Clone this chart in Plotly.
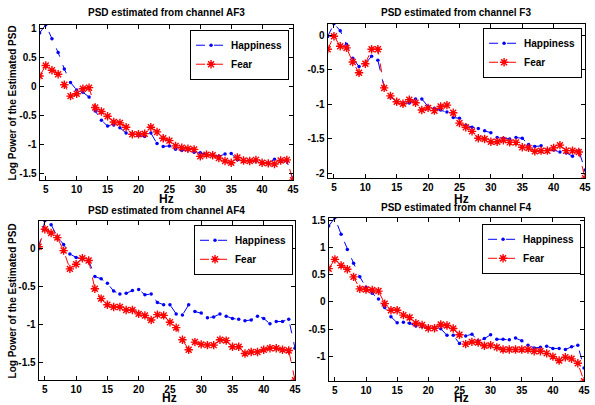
import plotly.graph_objects as go

hz = list(range(4, 46))

af3_happiness = [0.92, 1.06, 0.82, 0.585, 0.30, 0.07, -0.06, -0.10, -0.18, -0.42, -0.58, -0.68, -0.66, -0.71,
                 -0.80, -0.81, -0.84, -0.86, -0.80, -0.98, -1.03, -1.02, -1.08, -1.10, -1.09, -1.13, -1.14,
                 -1.16, -1.18, -1.20, -1.16, -1.15, -1.26, -1.28, -1.28, -1.28, -1.30, -1.32, -1.25, -1.28,
                 -1.28, -1.60]
af3_fear = [0.18, 0.36, 0.28, 0.21, 0.03, -0.165, -0.125, -0.04, -0.02, -0.36, -0.43, -0.51, -0.61, -0.625,
            -0.70, -0.82, -0.82, -0.81, -0.70, -0.78, -0.89, -0.93, -1.02, -1.05, -1.07, -1.08, -1.20,
            -1.17, -1.18, -1.23, -1.28, -1.31, -1.22, -1.27, -1.28, -1.26, -1.31, -1.32, -1.33, -1.27,
            -1.26, -1.61]

f3_happiness = [-0.015, 0.17, 0.07, -0.125, -0.33, -0.45, -0.41, -0.30, -0.36, -0.75, -0.89, -0.96, -0.98,
                -0.98, -0.92, -0.92, -1.03, -1.06, -1.08, -1.11, -1.19, -1.20, -1.30, -1.33, -1.35, -1.38,
                -1.41, -1.48, -1.49, -1.50, -1.48, -1.49, -1.58, -1.61, -1.60, -1.66, -1.66, -1.69, -1.70,
                -1.75, -1.67, -1.95]
f3_fear = [-0.20, -0.01, -0.155, -0.18, -0.385, -0.54, -0.41, -0.20, -0.20, -0.76, -0.875, -0.96, -0.99,
           -0.93, -0.975, -1.08, -1.05, -1.09, -1.03, -1.01, -1.12, -1.27, -1.33, -1.39, -1.49, -1.50,
           -1.54, -1.54, -1.52, -1.55, -1.55, -1.62, -1.63, -1.68, -1.67, -1.67, -1.63, -1.59, -1.67,
           -1.67, -1.69, -2.07]

af4_happiness = [0.0, 0.36, 0.31, 0.15, 0.05, -0.075, -0.12, -0.14, -0.16, -0.37, -0.40, -0.46, -0.56, -0.60,
                 -0.59, -0.555, -0.54, -0.61, -0.60, -0.71, -0.74, -0.74, -0.86, -0.875, -0.74, -0.83, -0.85,
                 -0.91, -0.90, -0.86, -0.89, -0.92, -0.93, -0.95, -0.94, -0.89, -0.92, -0.99, -0.96, -0.96,
                 -0.93, -1.31]
af4_fear = [0.02, 0.25, 0.20, 0.14, -0.03, -0.27, -0.21, -0.13, -0.16, -0.53, -0.66, -0.74, -0.77, -0.77,
            -0.81, -0.81, -0.86, -0.88, -0.94, -0.87, -0.88, -0.97, -1.04, -1.20, -1.33, -1.23, -1.26,
            -1.27, -1.27, -1.20, -1.21, -1.29, -1.29, -1.38, -1.36, -1.36, -1.33, -1.31, -1.31, -1.33,
            -1.34, -1.73]

f4_happiness = [1.39, 1.54, 1.24, 0.96, 0.71, 0.46, 0.27, 0.16, 0.055, -0.10, -0.27, -0.38, -0.37, -0.39,
                -0.44, -0.45, -0.49, -0.47, -0.49, -0.61, -0.61, -0.76, -0.62, -0.59, -0.71, -0.67, -0.60,
                -0.68, -0.68, -0.69, -0.66, -0.71, -0.79, -0.84, -0.83, -0.81, -0.85, -0.85, -0.87, -0.82,
                -0.79, -1.21]
f4_fear = [0.61, 0.78, 0.67, 0.60, 0.46, 0.24, 0.23, 0.22, 0.20, -0.03, -0.15, -0.15, -0.24, -0.285, -0.39,
           -0.42, -0.48, -0.48, -0.41, -0.43, -0.485, -0.60, -0.77, -0.73, -0.74, -0.80, -0.79, -0.83, -0.87,
           -0.87, -0.87, -0.87, -0.87, -0.90, -0.90, -0.94, -1.00, -1.07, -1.01, -1.04, -1.12, -1.45]

channels = ["AF3", "F3", "AF4", "F4"]
titles = ["PSD estimated from channel AF3", "PSD estimated from channel F3",
          "PSD estimated from channel AF4", "PSD estimated from channel F4"]
series_names = ["Happiness", "Fear"]
x_tickvals = [5, 10, 15, 20, 25, 30, 35, 40, 45]
y_tickvals = [-2, -1.5, -1, -0.5, 0, 0.5, 1, 1.5]
y_ticktext = ["-2", "-1.5", "-1", "-0.5", "0", "0.5", "1", "1.5"]
x_label = "Hz"
y_label = "Log Power of the Estimated PSD"

data = [(af3_happiness, af3_fear), (f3_happiness, f3_fear),
        (af4_happiness, af4_fear), (f4_happiness, f4_fear)]

W, H = 595, 405
# plot area boxes in pixels: (left, right, top, bottom)
boxes = [(40, 296, 22, 179), (331, 591, 21, 177), (39, 298, 220, 381), (332, 590, 217, 382)]
legend_pos = [(292, 27), (588, 25), (296, 224), (587, 223)]
title_y = [10, 10, 210, 207]
hz_pos = [(168, 198), (466, 198), (171, 399), (466, 399)]

fig = go.Figure()
layout = dict(width=W, height=H, autosize=False, margin=dict(l=0, r=0, t=0, b=0),
              paper_bgcolor="white", plot_bgcolor="white", annotations=[])

font_family = "Liberation Sans, Arial, sans-serif"

for i, (hap, fear) in enumerate(data):
    n = i + 1
    sfx = "" if n == 1 else str(n)
    xa, ya = "x" + sfx, "y" + sfx
    lg = "legend" + sfx
    fig.add_trace(go.Scatter(x=hz, y=hap, name=series_names[0], mode="lines+markers",
                             xaxis=xa, yaxis=ya, legend=lg,
                             line=dict(color="rgb(0,0,255)", width=1, dash="dash"),
                             marker=dict(symbol="circle", size=3.5, color="rgb(0,0,255)")))
    fig.add_trace(go.Scatter(x=hz, y=fear, name=series_names[1], mode="lines+markers",
                             xaxis=xa, yaxis=ya, legend=lg,
                             line=dict(color="rgb(255,0,0)", width=1, dash="dash"),
                             marker=dict(symbol="asterisk-open", size=7,
                                         line=dict(color="rgb(255,0,0)", width=1.4))))
    l, r, t, b = boxes[i]
    allv = hap + fear
    ax_common = dict(showline=True, linecolor="black", linewidth=1, mirror="ticks",
                     ticks="inside", ticklen=4, tickcolor="black", showgrid=False, zeroline=False,
                     tickfont=dict(family=font_family, size=10, color="black", weight="bold"))
    layout["xaxis" + sfx] = dict(domain=[l / W, r / W], anchor=ya, range=[4, 45],
                                 tickvals=x_tickvals, ticktext=[str(v) for v in x_tickvals], **ax_common)
    layout["yaxis" + sfx] = dict(domain=[1 - b / H, 1 - t / H], anchor=xa,
                                 range=[min(allv), max(allv)],
                                 tickvals=y_tickvals, ticktext=y_ticktext, **ax_common)
    lx, ly = legend_pos[i]
    layout[lg] = dict(x=lx / W, y=1 - ly / H, xanchor="right", yanchor="top",
                      bordercolor="black", borderwidth=1, bgcolor="white",
                      font=dict(family=font_family, size=10, color="black", weight="bold"),
                      itemwidth=30, tracegroupgap=0)
    layout["annotations"].append(dict(text=titles[i], x=(l + r) / 2 / W, y=1 - title_y[i] / H,
                                      xref="paper", yref="paper", showarrow=False,
                                      xanchor="center", yanchor="middle",
                                      font=dict(family=font_family, size=10, color="black", weight="bold")))
    hx, hy = hz_pos[i]
    layout["annotations"].append(dict(text=x_label, x=hx / W, y=1 - hy / H, xref="paper", yref="paper",
                                      showarrow=False, xanchor="center", yanchor="middle",
                                      font=dict(family=font_family, size=12, color="black", weight="bold")))
    if i in (0, 2):
        layout["annotations"].append(dict(text=y_label, x=13 / W, y=1 - ((t + b) / 2) / H,
                                          xref="paper", yref="paper", showarrow=False, textangle=-90,
                                          xanchor="center", yanchor="middle",
                                          font=dict(family=font_family, size=10, color="black",
                                                    weight="bold")))

fig.update_layout(**layout)
fig.write_html("out.html", config={"displayModeBar": False},
               post_script="document.body.style.margin='0';document.body.style.overflow='hidden';")
